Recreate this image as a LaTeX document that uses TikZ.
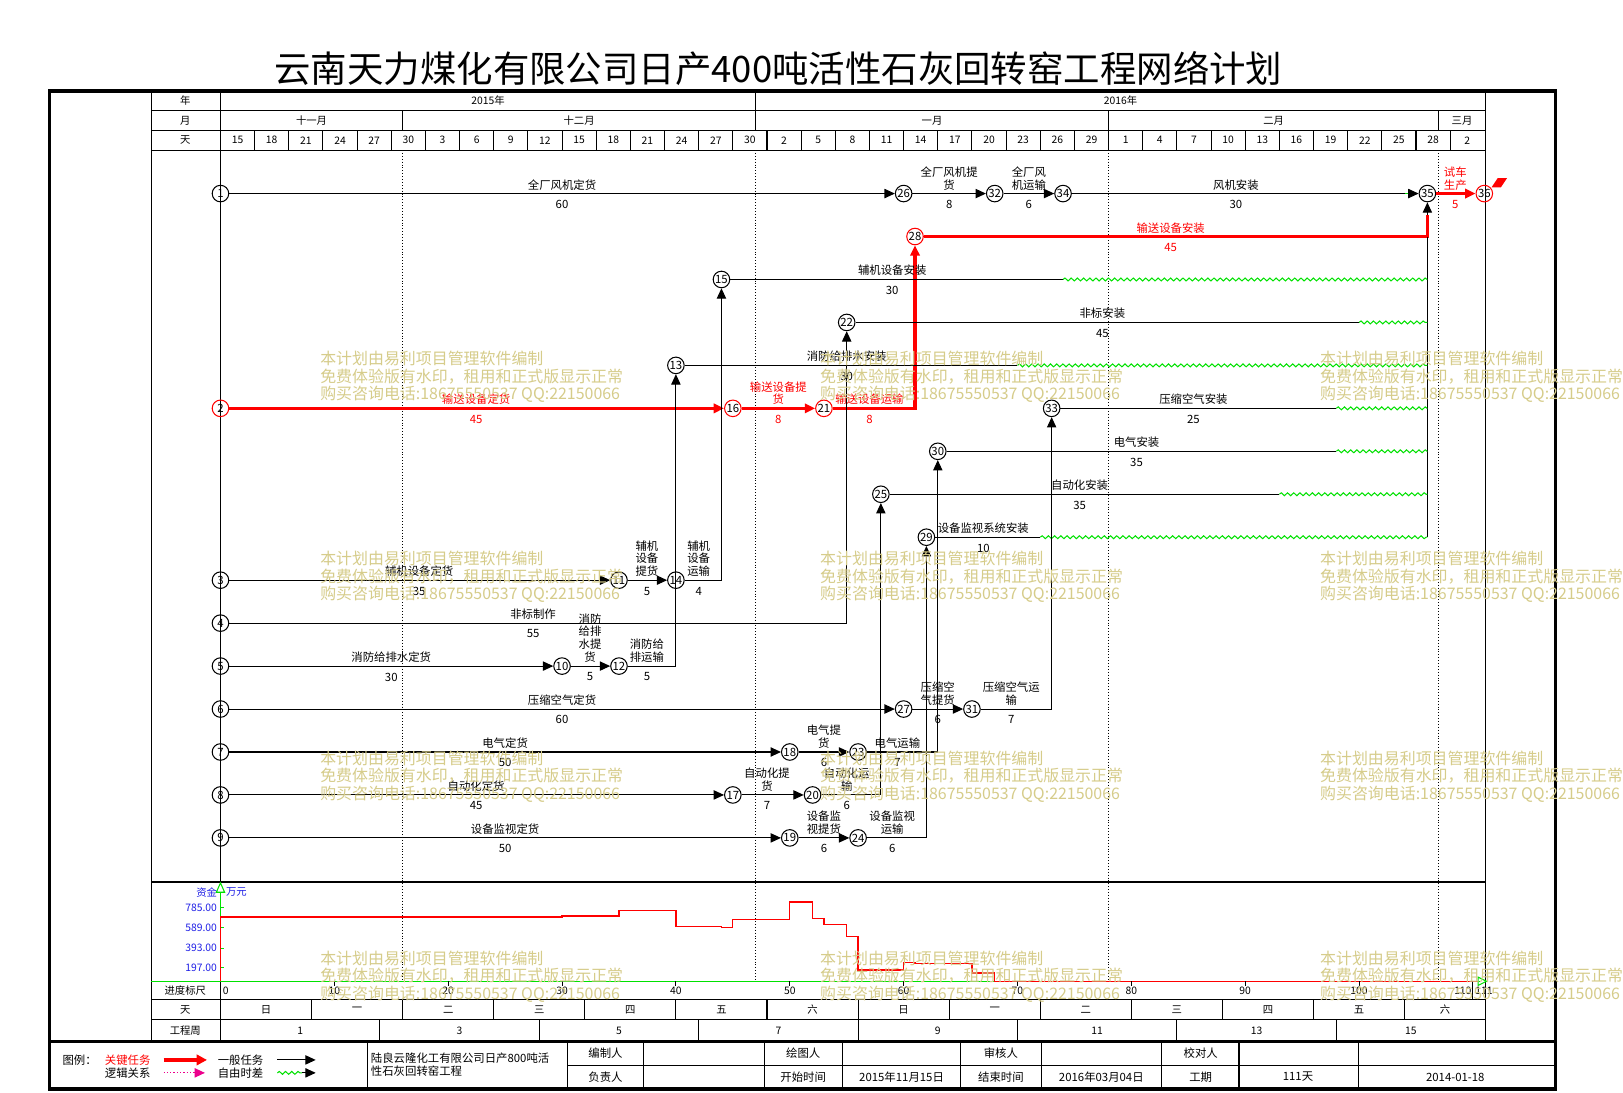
\documentclass[tikz,border=0pt]{standalone}
\usepackage{fontspec}
\setmainfont{Noto Sans CJK SC}
\usetikzlibrary{arrows.meta,decorations.pathmorphing,calc}
\definecolor{wm}{RGB}{214,204,138}
\definecolor{fgreen}{RGB}{0,225,0}
\definecolor{fblue}{RGB}{30,30,230}
\newcommand\alab[5][]{%
  \node[lbl,anchor=south,#1] at (#2,#4-3) {#3};
  \node[lbl,#1] at (#2,#4+10.5) {#5};}
\begin{document}
\begin{tikzpicture}[x=0.5pt,y=-0.5pt,
  ev/.style={circle,draw=black,line width=0.5pt,minimum size=8pt,inner sep=0pt,font=\fontsize{5.5}{5.5}\selectfont},
  evc/.style={ev,draw=red},
  act/.style={draw=black,line width=0.5pt},
  crit/.style={draw=red,line width=1.5pt},
  arrb/.style={-{Triangle[length=5pt,width=4.5pt]}},
  arrr/.style={-{Triangle[length=5pt,width=4.5pt,fill=red]}},
  ffloat/.style={draw=fgreen,line width=0.5pt,decorate,decoration={snake,amplitude=0.7pt,segment length=3pt}},
  lbl/.style={font=\fontsize{5.5}{6.2}\selectfont,inner sep=0pt,align=center},
  hd/.style={font=\fontsize{5}{5}\selectfont,inner sep=0pt},
  grid/.style={line width=0.5pt},
  mdot/.style={densely dotted,line width=0.4pt},
  wmk/.style={text=wm,font=\fontsize{7.7}{8.5}\selectfont,align=left,inner sep=0pt}
]
\useasboundingbox (0,0) rectangle (1568,1055);
\fill[white] (0,0) rectangle (1568,1055);

% title
\node[font=\fontsize{17.6}{17.6}\selectfont,inner sep=0pt] (title) at (752,66) {云南天力煤化有限公司日产400吨活性石灰回转窑工程网络计划};

% outer frame and table lines
\draw[line width=1.6pt] (48,88) rectangle (1503,1052);
\draw[grid] (146,88) -- (146,1006);
\draw[grid] (1435,88) -- (1435,1006);
\draw[grid] (213,88) -- (213,852);
\draw[grid] (213,948) -- (213,1006);
\draw[grid] (146,107) -- (1435,107);
\draw[grid] (146,126) -- (1435,126);
\draw[grid] (146,145) -- (1435,145);
\draw[grid] (730,88) -- (730,107);
\foreach \x in {389,730,1071,1390} \draw[grid] (\x,107) -- (\x,126);
\foreach \k in {1,...,36} \draw[grid] ({213+33*\k},126) -- ({213+33*\k},145);
\draw[line width=1.2pt] (146,852) -- (1435,852);
\draw[grid] (146,966) -- (1435,966);
\draw[grid] (146,985) -- (1435,985);
\draw[line width=1.6pt] (48,1006) -- (1503,1006);

% header text
\node[hd] (hy) at (179,97.5) {年};
\node[hd] (hm) at (179,116.5) {月};
\node[hd] (hdd) at (179,135.5) {天};
\node[hd] (y15) at (471.5,97.5) {2015年};
\node[hd] (y16) at (1082.5,97.5) {2016年};
\node[hd] (m11) at (301,116.5) {十一月};
\node[hd] (m12) at (559.5,116.5) {十二月};
\node[hd] (m1) at (900.5,116.5) {一月};
\node[hd] (m2) at (1230.5,116.5) {二月};
\node[hd] (m3) at (1412.5,116.5) {三月};
\foreach \lab [count=\i from 0] in {15,18,21,24,27,30,3,6,9,12,15,18,21,24,27,30,2,5,8,11,14,17,20,23,26,29,1,4,7,10,13,16,19,22,25,28,2}
  \node[hd] at ({229.5+33*\i},135.5) {\lab};

% month dotted lines
\foreach \x in {389,730,1071,1390} \draw[mdot] (\x,145) -- (\x,948);

% events
\node[ev] (n1) at (213,187) {1};
\node[evc] (n2) at (213,394.5) {2};
\node[ev] (n3) at (213,560.5) {3};
\node[ev] (n4) at (213,602) {4};
\node[ev] (n5) at (213,643.5) {5};
\node[ev] (n6) at (213,685) {6};
\node[ev] (n7) at (213,726.5) {7};
\node[ev] (n8) at (213,768) {8};
\node[ev] (n9) at (213,809.5) {9};
\node[ev] (n10) at (543,643.5) {10};
\node[ev] (n11) at (598,560.5) {11};
\node[ev] (n12) at (598,643.5) {12};
\node[ev] (n13) at (653,353) {13};
\node[ev] (n14) at (653,560.5) {14};
\node[ev] (n15) at (697,270) {15};
\node[evc] (n16) at (708,394.5) {16};
\node[ev] (n17) at (708,768) {17};
\node[ev] (n18) at (763,726.5) {18};
\node[ev] (n19) at (763,809.5) {19};
\node[ev] (n20) at (785,768) {20};
\node[evc] (n21) at (796,394.5) {21};
\node[ev] (n22) at (818,311.5) {22};
\node[ev] (n23) at (829,726.5) {23};
\node[ev] (n24) at (829,809.5) {24};
\node[ev] (n25) at (851,477.5) {25};
\node[ev] (n26) at (873,187) {26};
\node[ev] (n27) at (873,685) {27};
\node[evc] (n28) at (884,228.5) {28};
\node[ev] (n29) at (895,519) {29};
\node[ev] (n30) at (906,436) {30};
\node[ev] (n31) at (939,685) {31};
\node[ev] (n32) at (961,187) {32};
\node[ev] (n33) at (1016,394.5) {33};
\node[ev] (n34) at (1027,187) {34};
\node[ev] (n35) at (1379,187) {35};
\node[evc] (n36) at (1434,187) {36};

% helper coordinates
\coordinate (f34) at (1357,187);
\coordinate (g34) at (1360,187);
\coordinate (j35) at (1379,208);
\coordinate (j2) at (1379,228.5);
\coordinate (f15) at (1027,270);   \coordinate (e15) at (1379,270);
\coordinate (f22) at (1313,311.5); \coordinate (e22) at (1379,311.5);
\coordinate (f13) at (983,353);    \coordinate (e13) at (1379,353);
\coordinate (f33) at (1291,394.5); \coordinate (e33) at (1379,394.5);
\coordinate (f30) at (1291,436);   \coordinate (e30) at (1379,436);
\coordinate (f25) at (1236,477.5); \coordinate (e25) at (1379,477.5);
\coordinate (f29) at (1005,519);   \coordinate (e29) at (1379,519);

% row 1
\draw[act,arrb] (n1) -- (n26);
\draw[act,arrb] (n26) -- (n32);
\draw[act,arrb] (n32) -- (n34);
\draw[act] (n34) -- (f34);
\draw[ffloat] (f34) -- (g34);
\draw[act,arrb] (g34) -- (n35);
\draw[crit,arrr] (n35) -- (n36);
\fill[red] (1441,181) -- (1447,172) -- (1456,172) -- (1450,181) -- cycle;

% critical chain
\draw[crit,arrr] (n2) -- (n16);
\draw[crit,arrr] (n16) -- (n21);
\draw[crit,arrr] (n21) -| (n28);
\draw[crit] (n28) -| (j35);
\draw[act,arrb] (j35) -- (n35);
\draw[act] (e29) -- (j2);

% install rows with free float
\draw[act] (n15) -- (f15); \draw[ffloat] (f15) -- (e15);
\draw[act] (n22) -- (f22); \draw[ffloat] (f22) -- (e22);
\draw[act] (n13) -- (f13); \draw[ffloat] (f13) -- (e13);
\draw[act] (n33) -- (f33); \draw[ffloat] (f33) -- (e33);
\draw[act] (n30) -- (f30); \draw[ffloat] (f30) -- (e30);
\draw[act] (n25) -- (f25); \draw[ffloat] (f25) -- (e25);
\draw[act] (n29) -- (f29); \draw[ffloat] (f29) -- (e29);

% procurement rows
\draw[act,arrb] (n3) -- (n11);
\draw[act,arrb] (n11) -- (n14);
\draw[act,arrb] (n14) -| (n15);
\draw[act,arrb] (n4) -| (n22);
\draw[act,arrb] (n5) -- (n10);
\draw[act,arrb] (n10) -- (n12);
\draw[act,arrb] (n12) -| (n13);
\draw[act,arrb] (n6) -- (n27);
\draw[act,arrb] (n27) -- (n31);
\draw[act,arrb] (n31) -| (n33);
\draw[act,arrb] (n7) -- (n18);
\draw[act,arrb] (n18) -- (n23);
\draw[act,arrb] (n23) -| (n30);
\draw[act,arrb] (n8) -- (n17);
\draw[act,arrb] (n17) -- (n20);
\draw[act,arrb] (n20) -| (n25);
\draw[act,arrb] (n9) -- (n19);
\draw[act,arrb] (n19) -- (n24);
\draw[act,arrb] (n24) -| (n29);

% activity labels
\alab{543}{全厂风机定货}{187}{60}
\alab{917}{全厂风机提\\货}{187}{8}
\alab{994}{全厂风\\机运输}{187}{6}
\alab{1194}{风机安装}{187}{30}
\alab[text=red]{1406}{试车\\生产}{187}{5}
\alab[text=red]{1131}{输送设备安装}{228.5}{45}
\alab{862}{辅机设备安装}{270}{30}
\alab{1065}{非标安装}{311.5}{45}
\alab{818}{消防给排水安装}{353}{30}
\alab[text=red]{460}{输送设备定货}{394.5}{45}
\alab[text=red]{752}{输送设备提\\货}{394.5}{8}
\alab[text=red]{840}{输送设备运输}{394.5}{8}
\alab{1153}{压缩空气安装}{394.5}{25}
\alab{1098}{电气安装}{436}{35}
\alab{1043}{自动化安装}{477.5}{35}
\alab{950}{设备监视系统安装}{519}{10}
\alab{405}{辅机设备定货}{560.5}{35}
\alab{625}{辅机\\设备\\提货}{560.5}{5}
\alab{675}{辅机\\设备\\运输}{560.5}{4}
\alab{515}{非标制作}{602}{55}
\alab{378}{消防给排水定货}{643.5}{30}
\alab{570}{消防\\给排\\水提\\货}{643.5}{5}
\alab{625}{消防给\\排运输}{643.5}{5}
\alab{543}{压缩空气定货}{685}{60}
\alab{906}{压缩空\\气提货}{685}{6}
\alab{977}{压缩空气运\\输}{685}{7}
\alab{488}{电气定货}{726.5}{50}
\alab{796}{电气提\\货}{726.5}{6}
\alab{867}{电气运输}{726.5}{7}
\alab{460}{自动化定货}{768}{45}
\alab{741}{自动化提\\货}{768}{7}
\alab{818}{自动化运\\输}{768}{6}
\alab{488}{设备监视定货}{809.5}{50}
\alab{796}{设备监\\视提货}{809.5}{6}
\alab{862}{设备监视\\运输}{809.5}{6}

% funds chart
\draw[fgreen,line width=0.6pt] (146,948) -- (1430,948);
\draw[fgreen,line width=0.5pt] (1428,944) -- (1436,948) -- (1428,952) -- cycle;
\draw[fgreen,line width=0.6pt] (213,948) -- (213,862);
\draw[fgreen,line width=0.5pt] (209,862) -- (213,853) -- (217,862) -- cycle;
\foreach \y in {877,896,916,935} \draw[fgreen,line width=0.5pt] (213,\y) -- (216,\y);
\node[hd,text=fblue,anchor=east] (zj) at (210,862) {资金};
\node[hd,text=fblue,anchor=west] (wy) at (218,862) {万元};
\node[hd,text=fblue,anchor=east] (v1) at (210,877) {785.00};
\node[hd,text=fblue,anchor=east] (v2) at (210,896) {589.00};
\node[hd,text=fblue,anchor=east] (v3) at (210,916) {393.00};
\node[hd,text=fblue,anchor=east] (v4) at (210,935) {197.00};
\draw[red,line width=0.6pt] (213,948) -- (213,886) -- (543,886) -- (543,885) -- (598,885) -- (598,879.5) -- (653,879.5) -- (653,895) -- (697,895) -- (697,896) -- (708,896) -- (708,888.5) -- (763,888.5) -- (763,871.5) -- (785,871.5) -- (785,887) -- (796,887) -- (796,893.5) -- (818,893.5) -- (818,905) -- (829,905) -- (829,937) -- (873,937) -- (873,930) -- (884,930) -- (884,931) -- (939,931) -- (939,940) -- (961,940) -- (961,948) -- (1428,948);

% ruler row
\node[hd] (rul) at (179,957) {进度标尺};
\node[hd,anchor=west] (r0) at (215,957) {0};
\foreach \d in {10,20,...,100} {\draw[grid] ({213+11*\d},948) -- ({213+11*\d},953); \node[hd] at ({213+11*\d},957.5) {\d};}
\draw[grid] (1423,948) -- (1423,966);
\node[hd,anchor=east] (r110) at (1422,957.5) {110};
\node[hd,anchor=west] (r111) at (1425,957.5) {111};

% weekday row
\node[hd] (wd) at (179,975.5) {天};
\foreach \k in {1,...,13} \draw[grid] ({213+88*\k},966) -- ({213+88*\k},985);
\foreach \d [count=\i from 0] in {日,一,二,三,四,五,六,日,一,二,三,四,五} \node[hd] at ({257+88*\i},975.5) {\d};
\node[hd] (wd14) at (1396,975.5) {六};

% project week row
\node[hd] (gcz) at (179,995.5) {工程周};
\foreach \k in {0,...,6} \draw[grid] ({367+154*\k},985) -- ({367+154*\k},1006);
\foreach \w [count=\i from 0] in {1,3,5,7,9,11,13} \node[hd] at ({290+154*\i},995.5) {\w};
\node[hd] (w15) at (1363,995.5) {15};

% legend
\node[lbl,anchor=west] (tl) at (60,1024) {图例：};
\node[lbl,anchor=west,text=red] (tl1) at (101,1024) {关键任务};
\coordinate (la1) at (158,1024); \coordinate (lb1) at (200,1024);
\draw[red,line width=2pt,-{Triangle[length=5pt,width=5pt]}] (la1) -- (lb1);
\node[lbl,anchor=west] (tl2) at (210,1024) {一般任务};
\coordinate (la2) at (268,1024); \coordinate (lb2) at (305,1024);
\draw[act,arrb] (la2) -- (lb2);
\node[lbl,anchor=west] (tl3) at (101,1036.5) {逻辑关系};
\coordinate (la3) at (158,1036.5); \coordinate (lb3) at (198,1036.5);
\draw[magenta,densely dotted,line width=0.6pt,-{Triangle[length=5pt,width=4.5pt]}] (la3) -- (lb3);
\node[lbl,anchor=west] (tl4) at (210,1036.5) {自由时差};
\coordinate (la4) at (268,1036.5); \coordinate (lm4) at (292,1036.5); \coordinate (lb4) at (305,1036.5);
\draw[ffloat] (la4) -- (lm4);
\draw[act,arrb] (lm4) -- (lb4);

% bottom info table
\draw[grid] (355,1006) -- (355,1052);
\draw[grid] (548,1029) -- (1503,1029);
\foreach \x in {548,622,739,814,928,1006,1122,1197,1312} \draw[grid] (\x,1006) -- (\x,1052);
\node[lbl,align=left,anchor=north west] (comp) at (358,1017) {陆良云隆化工有限公司日产800吨活\\性石灰回转窑工程};
\node[lbl] (b1) at (585,1017.5) {编制人};
\node[lbl] (b2) at (585,1040.5) {负责人};
\node[lbl] (b3) at (776,1017.5) {绘图人};
\node[lbl] (b4) at (776,1040.5) {开始时间};
\node[lbl] (b5) at (871,1040.5) {2015年11月15日};
\node[lbl] (b6) at (967,1017.5) {审核人};
\node[lbl] (b7) at (967,1040.5) {结束时间};
\node[lbl] (b8) at (1064,1040.5) {2016年03月04日};
\node[lbl] (b9) at (1160,1017.5) {校对人};
\node[lbl] (b10) at (1160,1040.5) {工期};
\node[lbl] (b11) at (1254,1040.5) {111天};
\node[lbl] (b12) at (1406,1040.5) {2014-01-18};

% watermarks
\foreach \wx in {309,792,1275}
  \foreach \wy in {339,532,725,918}
    \node[wmk,anchor=north west] at (\wx,\wy) {本计划由易利项目管理软件编制\\免费体验版有水印，租用和正式版显示正常\\购买咨询电话:18675550537 QQ:22150066};
\end{tikzpicture}
\end{document}
